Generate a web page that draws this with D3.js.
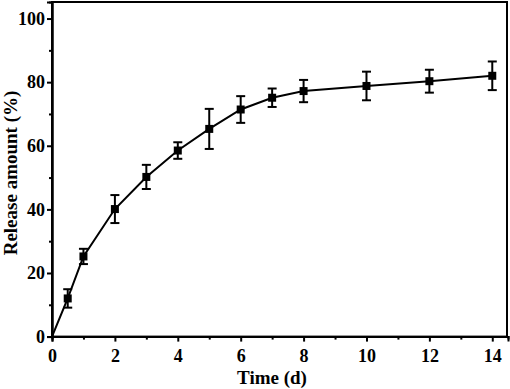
<!DOCTYPE html>
<html>
<head>
<meta charset="utf-8">
<script src="https://cdn.jsdelivr.net/npm/d3@7/dist/d3.min.js"></script>
<style>
  body { margin: 0; background: #fff; }
  text { font-family: "Liberation Serif", "Times New Roman", serif; font-weight: bold; }
</style>
</head>
<body>
<div id="chart"></div>
<script>
// data
var days = [0, 0.5, 1, 2, 3, 4, 5, 6, 7, 8, 10, 12, 14];
var release = [0, 12.0, 25.2, 40.1, 50.2, 58.5, 65.3, 71.4, 75.1, 77.2, 78.8, 80.3, 82.0];
var errors = [0, 2.9, 2.4, 4.4, 3.8, 2.6, 6.3, 4.2, 2.9, 3.5, 4.5, 3.6, 4.5];
var xTicks = [0, 2, 4, 6, 8, 10, 12, 14];
var yTicks = [0, 20, 40, 60, 80, 100];

var width = 510, height = 389;
var margin = { top: 2, right: 2, bottom: 53, left: 52 };

var svg = d3.select("#chart").append("svg")
    .attr("width", width)
    .attr("height", height);

var xScale = d3.scaleLinear()
    .domain([0, 14.5])
    .range([margin.left, width - margin.right]);

var yScale = d3.scaleLinear()
    .domain([0, 105.2])
    .range([height - margin.bottom + 0.6, margin.top]);

var points = days.map(function (d, i) {
    return { t: d, v: release[i], e: errors[i] };
});

// minor ticks (odd values)
var xMinor = d3.range(1, 15, 2);
var yMinor = d3.range(10, 101, 20);

var xAxis = d3.axisBottom(xScale).tickValues(xTicks).tickSize(5).tickPadding(8).tickFormat(d3.format("d"));
var xAxisMinor = d3.axisBottom(xScale).tickValues(xMinor).tickSize(3).tickFormat("");
var yAxis = d3.axisLeft(yScale).tickValues(yTicks).tickSize(5).tickPadding(2).tickFormat(d3.format("d"));
var yAxisMinor = d3.axisLeft(yScale).tickValues(yMinor).tickSize(3).tickFormat("");

var y0 = yScale(0);
var x0 = xScale(0);

// frame
svg.append("rect")
    .attr("x", xScale(0))
    .attr("y", margin.top)
    .attr("width", xScale(14.5) - xScale(0) - 1)
    .attr("height", y0 - margin.top)
    .attr("fill", "none")
    .attr("stroke", "#000")
    .attr("stroke-width", 2);

[xAxis, xAxisMinor].forEach(function (ax) {
    svg.append("g")
        .attr("transform", "translate(0," + y0 + ")")
        .call(ax)
        .call(function (g) { g.select(".domain").attr("stroke-width", 2); })
        .call(function (g) { g.selectAll("line").attr("stroke-width", 2); })
        .selectAll("text")
        .style("font-size", "18px")
        .attr("fill", "#000");
});

[yAxis, yAxisMinor].forEach(function (ax) {
    svg.append("g")
        .attr("transform", "translate(" + x0 + ",0)")
        .call(ax)
        .call(function (g) { g.select(".domain").attr("stroke-width", 2); })
        .call(function (g) { g.selectAll("line").attr("stroke-width", 2); })
        .selectAll("text")
        .style("font-size", "18px")
        .attr("fill", "#000");
});

// axis titles
svg.append("text")
    .attr("x", 272)
    .attr("y", 384)
    .attr("text-anchor", "middle")
    .style("font-size", "19px")
    .text("Time (d)");

svg.append("text")
    .attr("transform", "translate(17,173) rotate(-90)")
    .attr("text-anchor", "middle")
    .style("font-size", "19px")
    .text("Release amount (%)");

// line
var line = d3.line()
    .x(function (d) { return xScale(d.t); })
    .y(function (d) { return yScale(d.v); });

svg.append("path")
    .datum(points)
    .attr("d", line)
    .attr("fill", "none")
    .attr("stroke", "#000")
    .attr("stroke-width", 2);

// error bars
var bars = svg.append("g")
    .selectAll("g")
    .data(points.filter(function (d) { return d.e > 0; }))
    .join("g");

bars.append("line")
    .attr("x1", function (d) { return xScale(d.t); })
    .attr("x2", function (d) { return xScale(d.t); })
    .attr("y1", function (d) { return yScale(d.v + d.e); })
    .attr("y2", function (d) { return yScale(d.v - d.e); })
    .attr("stroke", "#000")
    .attr("stroke-width", 2);

bars.selectAll(".cap")
    .data(function (d) { return [d.v + d.e, d.v - d.e].map(function (v) { return { t: d.t, v: v }; }); })
    .join("line")
    .attr("class", "cap")
    .attr("x1", function (d) { return xScale(d.t) - 4.5; })
    .attr("x2", function (d) { return xScale(d.t) + 4.5; })
    .attr("y1", function (d) { return yScale(d.v); })
    .attr("y2", function (d) { return yScale(d.v); })
    .attr("stroke", "#000")
    .attr("stroke-width", 2);

// markers
svg.append("g")
    .selectAll("rect")
    .data(points.filter(function (d) { return d.t > 0; }))
    .join("rect")
    .attr("x", function (d) { return xScale(d.t) - 4; })
    .attr("y", function (d) { return yScale(d.v) - 4; })
    .attr("width", 8)
    .attr("height", 8)
    .attr("fill", "#000");
</script>
</body>
</html>
